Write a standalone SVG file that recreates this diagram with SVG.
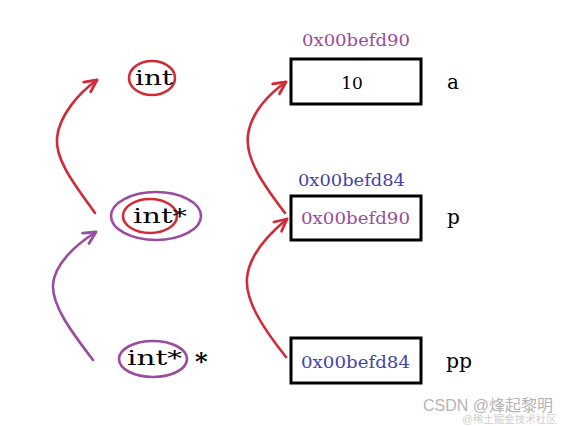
<svg xmlns="http://www.w3.org/2000/svg" width="574" height="426" viewBox="0 0 574 426">
<style>
.box{fill:#fff;stroke:#000;stroke-width:3}
.mono{font-family:"DejaVu Serif","Liberation Serif",serif}
.hex{font-size:17px}
.pur{fill:#9a4c9e}
.blu{fill:#4343ad}
.blk{fill:#000}
.big{font-size:20px}
.arr{fill:none;stroke-width:2.6;stroke-linecap:round}
.red{stroke:#d22a36}
.purS{stroke:#9a4c9e}
.ell{fill:none;stroke-width:2.6}
</style>
<defs>
<marker id="hr" markerUnits="userSpaceOnUse" markerWidth="20" markerHeight="20" viewBox="-14 -10 20 20" refX="0" refY="0" orient="auto">
<path d="M-12,-6 L0,0 L-12,6" fill="none" stroke="#d22a36" stroke-width="2.8" stroke-linecap="round" stroke-linejoin="round"/>
</marker>
<marker id="hp" markerUnits="userSpaceOnUse" markerWidth="20" markerHeight="20" viewBox="-14 -10 20 20" refX="0" refY="0" orient="auto">
<path d="M-12,-6 L0,0 L-12,6" fill="none" stroke="#9a4c9e" stroke-width="2.8" stroke-linecap="round" stroke-linejoin="round"/>
</marker>
</defs>
<rect width="574" height="426" fill="#fff"/>

<g id="connectors">
<path class="arr red" d="M95,213 C75,185 55,160 57,138 C59,115 80,92 97,80" marker-end="url(#hr)"/>
<path class="arr purS" d="M93,360 C70,330 52,305 53,285 C54,265 75,245 96,232" marker-end="url(#hp)"/>
<path class="arr red" d="M285,213 C262,183 245,158 248,135 C251,112 270,93 286,82" marker-end="url(#hr)"/>
<path class="arr red" d="M286,357 C262,327 245,300 247,278 C249,255 270,233 287,219" marker-end="url(#hr)"/>
</g>

<g id="type-int">
<ellipse class="ell red" cx="152" cy="78" rx="23" ry="17"/>
<text class="mono blk" x="135" y="85" font-size="20" textLength="38" lengthAdjust="spacingAndGlyphs">int</text>
</g>

<g id="type-intp">
<ellipse class="ell purS" cx="156" cy="216" rx="45" ry="24"/>
<ellipse class="ell red" cx="150" cy="216" rx="27" ry="17"/>
<text class="mono blk" x="133" y="223" font-size="20" textLength="54" lengthAdjust="spacingAndGlyphs">int*</text>
</g>

<g id="type-intpp">
<ellipse class="ell purS" cx="153" cy="359" rx="34" ry="18"/>
<text class="mono blk" x="127" y="365" font-size="20" textLength="55" lengthAdjust="spacingAndGlyphs">int*</text>
<text class="mono blk" x="195" y="370" font-size="24" font-weight="bold">*</text>
</g>

<g id="var-a">
<text class="mono hex pur" x="302" y="46" textLength="108" lengthAdjust="spacingAndGlyphs">0x00befd90</text>
<rect class="box" x="291" y="59" width="130" height="45"/>
<text class="mono blk" x="352" y="89" font-size="17" text-anchor="middle">10</text>
<text class="mono blk big" x="447" y="89">a</text>
</g>

<g id="var-p">
<text class="mono hex blu" x="298" y="186" textLength="107" lengthAdjust="spacingAndGlyphs">0x00befd84</text>
<rect class="box" x="291" y="196" width="130" height="44"/>
<text class="mono hex pur" x="301" y="224" textLength="109" lengthAdjust="spacingAndGlyphs">0x00befd90</text>
<text class="mono blk big" x="447" y="224">p</text>
</g>

<g id="var-pp">
<rect class="box" x="291" y="338" width="130" height="45"/>
<text class="mono hex blu" x="301" y="368" textLength="109" lengthAdjust="spacingAndGlyphs">0x00befd84</text>
<text class="mono blk big" x="446" y="368" textLength="26" lengthAdjust="spacingAndGlyphs">pp</text>
</g>

<text x="423" y="411" font-family="Liberation Sans, Noto Sans CJK SC, sans-serif" font-size="16" fill="#b4b4b4">CSDN @烽起黎明</text>
<text x="462" y="423" font-family="Liberation Sans, Noto Sans CJK SC, sans-serif" font-size="10.5" fill="#d0d0d0">@稀土掘金技术社区</text>
</svg>
